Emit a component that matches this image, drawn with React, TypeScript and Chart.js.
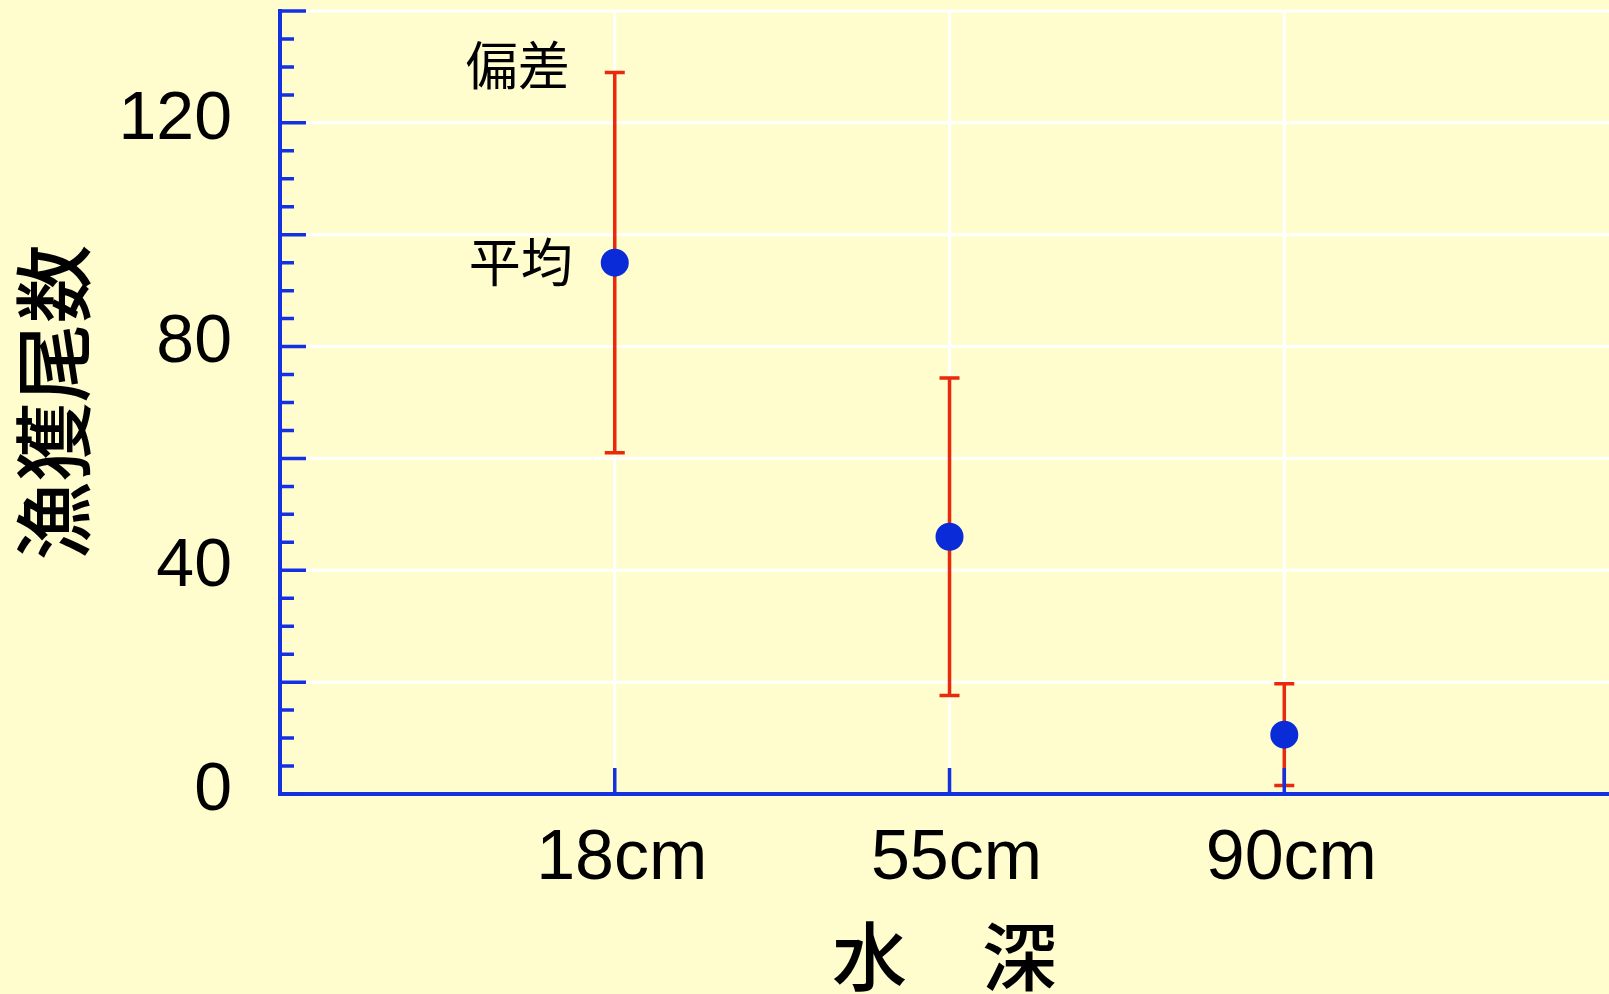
import React, { useEffect, useRef } from "react";
import { Chart, registerables } from "chart.js";

Chart.register(...registerables);

// Catch per water depth: mean and standard deviation
const categories = ["18cm", "55cm", "90cm"];
const meanCatch = [95, 46, 10.6];
const sdCatch = [34, 28.4, 9.1];
const yLabelValues = [0, 40, 80, 120];

const xTitle = "水　深";
const yTitle = "漁獲尾数";
const meanLabel = "平均";
const sdLabel = "偏差";

const BG = "#fffcce";
const AXIS_BLUE = "#1331e0";
const POINT_BLUE = "#092cd8";
const BAR_RED = "#e8290c";
const GRID_WHITE = "#ffffff";
const LATIN = "'Liberation Sans', Arial, Helvetica, sans-serif";
const CJK = "'Noto Sans CJK JP', 'Noto Sans CJK SC', sans-serif";

const isCategoryTick = (v: number) => Number.isInteger(v) && categories[v - 1] !== undefined;

const plotDecor = {
  id: "plotDecor",
  beforeDraw(chart: any) {
    const { ctx, chartArea, scales } = chart;
    const x = scales.x;
    const y = scales.y;
    ctx.save();
    ctx.fillStyle = BG;
    ctx.fillRect(0, 0, chart.width, chart.height);
    ctx.strokeStyle = GRID_WHITE;
    ctx.lineWidth = 3;
    ctx.beginPath();
    y.ticks.forEach((t: any) => {
      if (t.value > 0 && t.value % 20 === 0) {
        const py = y.getPixelForValue(t.value);
        ctx.moveTo(chartArea.left, py);
        ctx.lineTo(chartArea.right, py);
      }
    });
    x.ticks.forEach((t: any) => {
      if (isCategoryTick(t.value)) {
        const px = x.getPixelForValue(t.value);
        ctx.moveTo(px, chartArea.top);
        ctx.lineTo(px, chartArea.bottom);
      }
    });
    ctx.stroke();
    ctx.restore();
  },
  beforeDatasetsDraw(chart: any) {
    const { ctx, scales } = chart;
    const x = scales.x;
    const y = scales.y;
    ctx.save();
    ctx.strokeStyle = BAR_RED;
    ctx.lineWidth = 3.5;
    ctx.lineCap = "butt";
    meanCatch.forEach((m, i) => {
      const px = x.getPixelForValue(i + 1);
      const top = y.getPixelForValue(m + sdCatch[i]);
      const bot = y.getPixelForValue(m - sdCatch[i]);
      ctx.beginPath();
      ctx.moveTo(px, top);
      ctx.lineTo(px, bot);
      ctx.moveTo(px - 10, top);
      ctx.lineTo(px + 10, top);
      ctx.moveTo(px - 10, bot);
      ctx.lineTo(px + 10, bot);
      ctx.stroke();
    });
    ctx.restore();
  },
  afterDatasetsDraw(chart: any) {
    const { ctx, chartArea, scales } = chart;
    const x = scales.x;
    const y = scales.y;
    ctx.save();
    // tick marks pointing into the plot
    ctx.strokeStyle = AXIS_BLUE;
    ctx.lineWidth = 3.5;
    ctx.beginPath();
    y.ticks.forEach((t: any) => {
      const py = y.getPixelForValue(t.value);
      const len = t.value % 20 === 0 ? 26 : 14;
      ctx.moveTo(chartArea.left, py);
      ctx.lineTo(chartArea.left + len, py);
    });
    x.ticks.forEach((t: any) => {
      if (isCategoryTick(t.value)) {
        const px = x.getPixelForValue(t.value);
        ctx.moveTo(px, chartArea.bottom);
        ctx.lineTo(px, chartArea.bottom - 26);
      }
    });
    ctx.stroke();

    // notes beside the first marker
    const px0 = x.getPixelForValue(1);
    ctx.fillStyle = "#000";
    ctx.font = `52px ${CJK}`;
    ctx.textAlign = "right";
    ctx.textBaseline = "middle";
    ctx.fillText(meanLabel, px0 - 42, y.getPixelForValue(meanCatch[0]));
    ctx.fillText(sdLabel, px0 - 45, y.getPixelForValue(meanCatch[0] + sdCatch[0]) - 7);
    ctx.restore();
  },
};

const fixedSize = (w: number | null, h: number | null) => (s: any) => {
  if (w !== null) s.width = w;
  if (h !== null) s.height = h;
  s.paddingLeft = 0;
  s.paddingRight = 0;
  s.paddingTop = 0;
  s.paddingBottom = 0;
};

export default function App() {
  const ref = useRef<HTMLCanvasElement>(null);

  useEffect(() => {
    const chart = new Chart(ref.current as HTMLCanvasElement, {
      type: "scatter",
      data: {
        datasets: [
          {
            data: meanCatch.map((m, i) => ({ x: i + 1, y: m })),
            backgroundColor: POINT_BLUE,
            borderWidth: 0,
            pointRadius: 14,
            pointHoverRadius: 14,
          },
        ],
      },
      options: {
        animation: false,
        responsive: false,
        devicePixelRatio: 1,
        events: [],
        layout: { autoPadding: false, padding: { top: 11, left: 0, right: 0, bottom: 0 } },
        plugins: { legend: { display: false }, tooltip: { enabled: false } },
        scales: {
          x: {
            type: "linear",
            min: 0,
            max: 3.97,
            grid: { display: false, drawTicks: false },
            border: { display: true, color: AXIS_BLUE, width: 4 },
            ticks: {
              stepSize: 1,
              autoSkip: false,
              maxRotation: 0,
              padding: 24,
              labelOffset: 7,
              color: "#000",
              font: { family: LATIN, size: 70 },
              callback: (v: any) => categories[v - 1] ?? "",
            },
            title: {
              display: true,
              text: xTitle,
              color: "#000",
              font: { family: CJK, size: 75, lineHeight: 1, weight: "500" },
              padding: { top: 0, bottom: 0 },
            },
            afterFit: fixedSize(null, 200),
          },
          y: {
            min: 0,
            max: 140,
            grid: { display: false, drawTicks: false },
            border: { display: true, color: AXIS_BLUE, width: 4 },
            ticks: {
              stepSize: 5,
              autoSkip: false,
              maxTicksLimit: 100,
              padding: 48,
              labelOffset: -3,
              color: "#000",
              font: { family: LATIN, size: 68 },
              callback: (v: any) => (yLabelValues.includes(v) ? String(v) : ""),
            },
            title: {
              display: true,
              text: yTitle,
              color: "#000",
              font: { family: CJK, size: 79, lineHeight: 1, weight: "500" },
              padding: { top: 14, bottom: 0 },
            },
            afterFit: fixedSize(280, null),
          },
        },
      },
      plugins: [plotDecor],
    } as any);
    return () => chart.destroy();
  }, []);

  return (
    <div
      style={{
        position: "absolute",
        left: 0,
        top: 0,
        width: 1609,
        height: 994,
        background: BG,
      }}
    >
      <canvas ref={ref} width={1609} height={994} style={{ display: "block" }} />
    </div>
  );
}
